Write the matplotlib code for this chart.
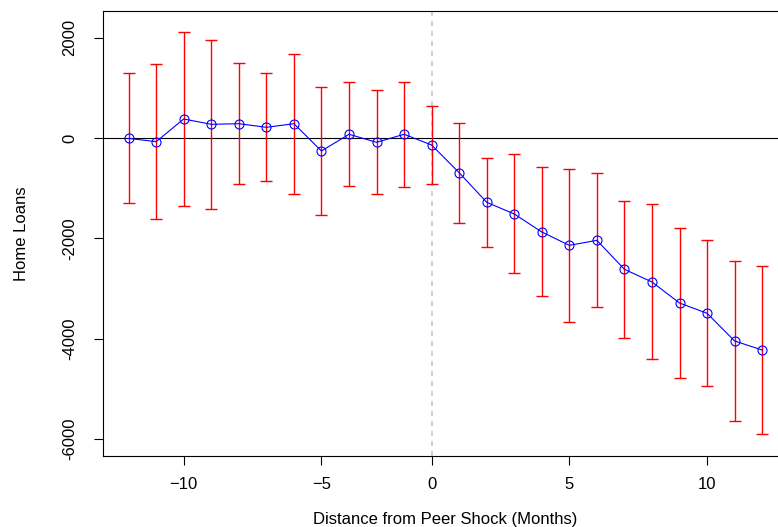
import matplotlib
matplotlib.use("Agg")
import matplotlib.pyplot as plt
import numpy as np

plt.rcParams['font.family'] = ['Liberation Sans', 'DejaVu Sans']

# plotting positions of the 24 event-time coefficients (0 = peer shock line)
pos = list(range(-11, 13))
coef = [-10, -75, 377, 271, 283, 211, 283, -261, 72, -88, 72, -142,
        -694, -1284, -1517, -1876, -2142, -2042, -2620, -2873, -3292, -3497, -4049, -4229]
upper = [1288, 1467, 2117, 1952, 1493, 1294, 1679, 1021, 1108, 961, 1121, 636,
         304, -394, -328, -587, -613, -707, -1265, -1324, -1803, -2042, -2461, -2560]
lower = [-1292, -1617, -1364, -1424, -926, -866, -1112, -1543, -966, -1125, -985, -926,
         -1690, -2182, -2700, -3159, -3676, -3372, -3983, -4414, -4780, -4946, -5644, -5903]

tick_pos = [-9, -4, 0, 5, 10]
tick_labels = ['\u221210', '\u22125', '0', '5', '10']
ytick_vals = [2000, 0, -2000, -4000, -6000]
ytick_labels = ['2000', '0', '-2000', '-4000', '-6000']

fig = plt.figure(figsize=(7.78, 5.27), dpi=100)
ax = fig.add_axes([103.3 / 778, 1 - 456.3 / 527, 684.2 / 778, 445.3 / 527])

coef_a = np.array(coef)
err = [coef_a - np.array(lower), np.array(upper) - coef_a]
ax.errorbar(pos, coef, yerr=err, fmt='none', ecolor='red', elinewidth=1.0,
            capsize=4.3, capthick=1.0, zorder=2)
ax.axhline(0, color='black', lw=0.8, zorder=1)
ax.axvline(0, color='#c8c8c8', lw=1.2, ls=(0, (3, 3)), zorder=1)
ax.plot(pos, coef, color='blue', lw=0.8, marker='o', ms=6.5, mfc='none',
        mec='blue', mew=0.8, zorder=3)

ax.set_xlim(-11.92, 12.92)
ax.set_ylim(-6348, 2530)
ax.set_xticks(tick_pos)
ax.set_xticklabels(tick_labels)
ax.set_yticks(ytick_vals)
ax.set_yticklabels(ytick_labels, rotation=90, va='center')

ax.tick_params(axis='both', direction='out', length=6.5, width=0.8, labelsize=12)
ax.tick_params(axis='x', pad=8.5)
ax.tick_params(axis='y', pad=12)
for s in ax.spines.values():
    s.set_linewidth(0.8)

ax.set_xlabel('Distance from Peer Shock (Months)', fontsize=12, labelpad=14)
ax.set_ylabel('Home Loans', fontsize=12, labelpad=24)

fig.savefig('out.png', dpi=100)
